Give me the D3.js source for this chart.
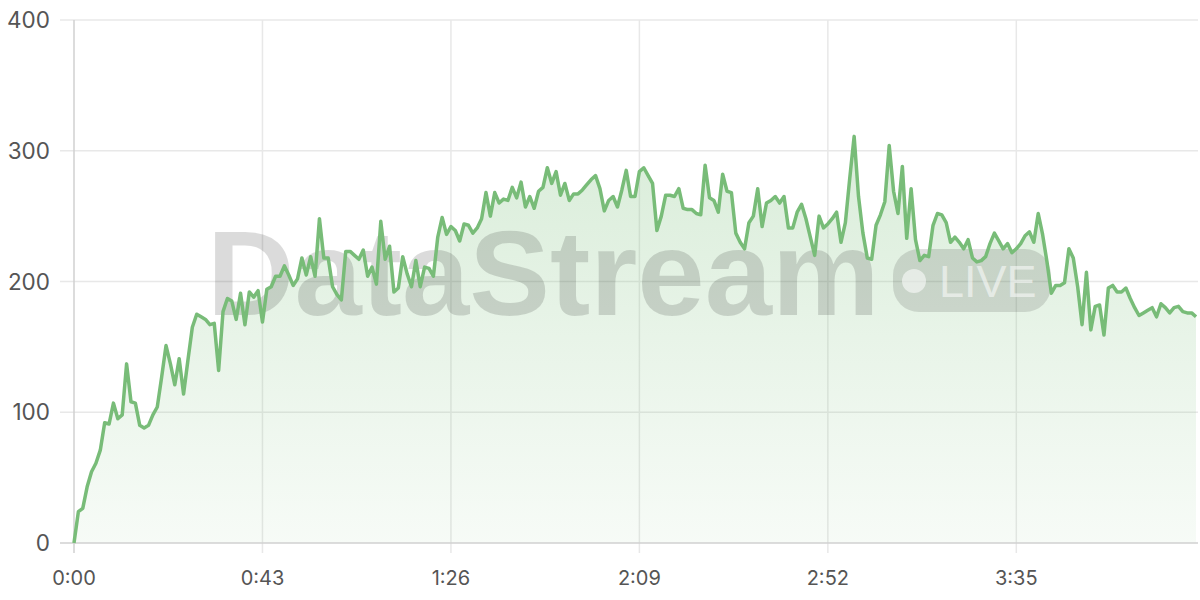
<!DOCTYPE html>
<html>
<head>
<meta charset="utf-8">
<script src="https://cdn.jsdelivr.net/npm/d3@7"></script>
<style>
html,body{margin:0;padding:0;background:#fff;}
svg{display:block;}
</style>
</head>
<body>
<svg id="chart" width="1200" height="600"></svg>
<script>
const values = [0,24,26.5,43,54.5,61,71,92,91,107,95,98,137,108,107,90,88,90,98,104,
127,151,137,121,141,114,140,165,175,173,171,167,168,132,177,187,185,171,191,167,
192,188,193,169,194,196,204,204,212,205,197,202,218,205,219,204,248,218,218,196,
190,186,223,223,220,217,224,204,211,198,246,217,227,192,195,219,206,196,216,196,
211,210,204,234,249,236,242,239,231,244,243,237,241,248,268,250,268,260,263,262,
272,264,276,257,265,256,269,272,287,275,284,266,275,262,267,267,270,274,278,281,
271,254,262,265,257,270,285,265,265,284,287,281,275,239,250,266,266,265,271,256,
255,255,252,251,289,264,262,253,282,269,268,237,230,225,245,250,271,242,260,262,
265,260,265,241,241,253,259,248,234,220,250,241,244,248,253,230,245,279,311,265,
237,218,217,243,251,261,304,269,252,288,233,271,232,216,220,219,243,252,251,245,
230,234,230,225,232,218,215,216,219,229,237,231,225,229,222,225,229,235,238,230,
252,236,215,191,197,197,199,225,218,196,167,207,163,181,182,159,195,197,192,192,
195,187,180,174,176,178,180,173,183,180,176,180,181,177,176,176,173];
const seconds = values.map((v,i)=>i);
const xTickValues = [0,43,86,129,172,215];
const xTickLabels = ["0:00","0:43","1:26","2:09","2:52","3:35"];
const yTickValues = [0,100,200,300,400];
const watermarkText = "DataStream";
const badgeText = "LIVE";

(function(){
const svg = d3.select("#chart");
const mL = 74, mR = 1198, mT = 20, mB = 543;
const x = d3.scaleLinear().domain([0, 256]).range([mL, 1196]);
const y = d3.scaleLinear().domain([0, 400]).range([mB, mT]);
const font = "Inter, 'Noto Sans', sans-serif";

const defs = svg.append("defs");
const grad = defs.append("linearGradient").attr("id","fillGrad")
  .attr("gradientUnits","userSpaceOnUse").attr("x1",0).attr("x2",0).attr("y1",mT).attr("y2",mB);
grad.append("stop").attr("offset","0%").attr("stop-color","rgb(120,190,120)").attr("stop-opacity",0.34);
grad.append("stop").attr("offset","100%").attr("stop-color","rgb(120,190,120)").attr("stop-opacity",0.06);

svg.append("g").selectAll("line").data(yTickValues.filter(d=>d>0)).join("line")
  .attr("x1", 60).attr("x2", mR).attr("y1", d=>y(d)).attr("y2", d=>y(d))
  .attr("stroke","#e8e8e8").attr("stroke-width",1.5);
svg.append("g").selectAll("line").data(xTickValues.filter(d=>d>0)).join("line")
  .attr("x1", d=>x(d)).attr("x2", d=>x(d)).attr("y1", mT).attr("y2", 553)
  .attr("stroke","#e8e8e8").attr("stroke-width",1.5);

const area = d3.area().x((d,i)=>x(seconds[i])).y0(y(0)).y1(d=>y(d)).curve(d3.curveLinear);
svg.append("path").datum(values).attr("d", area).attr("fill","url(#fillGrad)");

const wm = svg.append("g");
wm.append("text").attr("x",207).attr("y",315).text(watermarkText)
  .attr("font-family","'Liberation Sans', Arial, sans-serif").attr("font-weight","bold")
  .attr("font-size",121).attr("fill","rgba(0,0,0,0.14)");
wm.append("rect").attr("x",893).attr("y",249).attr("width",158).attr("height",63).attr("rx",26)
  .attr("fill","rgba(0,0,0,0.12)");
wm.append("circle").attr("cx",914).attr("cy",281).attr("r",12).attr("fill","rgba(255,255,255,0.55)");
wm.append("text").attr("x",939).attr("y",297).text(badgeText)
  .attr("font-family","'Liberation Sans', Arial, sans-serif").attr("font-size",45)
  .attr("fill","rgba(255,255,255,0.55)");

svg.append("line").attr("x1",60).attr("x2",mR).attr("y1",mB).attr("y2",mB)
  .attr("stroke","#d0d0d0").attr("stroke-width",1.5);
svg.append("line").attr("x1",mL).attr("x2",mL).attr("y1",mT).attr("y2",553)
  .attr("stroke","#d0d0d0").attr("stroke-width",1.5);

const line = d3.line().x((d,i)=>x(seconds[i])).y(d=>y(d)).curve(d3.curveLinear);
svg.append("path").datum(values).attr("d", line).attr("fill","none")
  .attr("stroke","rgb(120,188,120)").attr("stroke-width",3.5).attr("stroke-linejoin","round");

svg.append("g").selectAll("text").data(yTickValues).join("text")
  .attr("x",50).attr("y",d=>y(d)).attr("dy","0.36em").attr("text-anchor","end")
  .attr("font-family",font).attr("font-size",22.5).attr("fill","#555").text(d=>d);
svg.append("g").selectAll("text").data(xTickValues).join("text")
  .attr("x",d=>x(d)).attr("y",578).attr("dy","0.36em").attr("text-anchor","middle")
  .attr("font-family",font).attr("font-size",20).attr("fill","#555").text((d,i)=>xTickLabels[i]);
})();
</script>
</body>
</html>
